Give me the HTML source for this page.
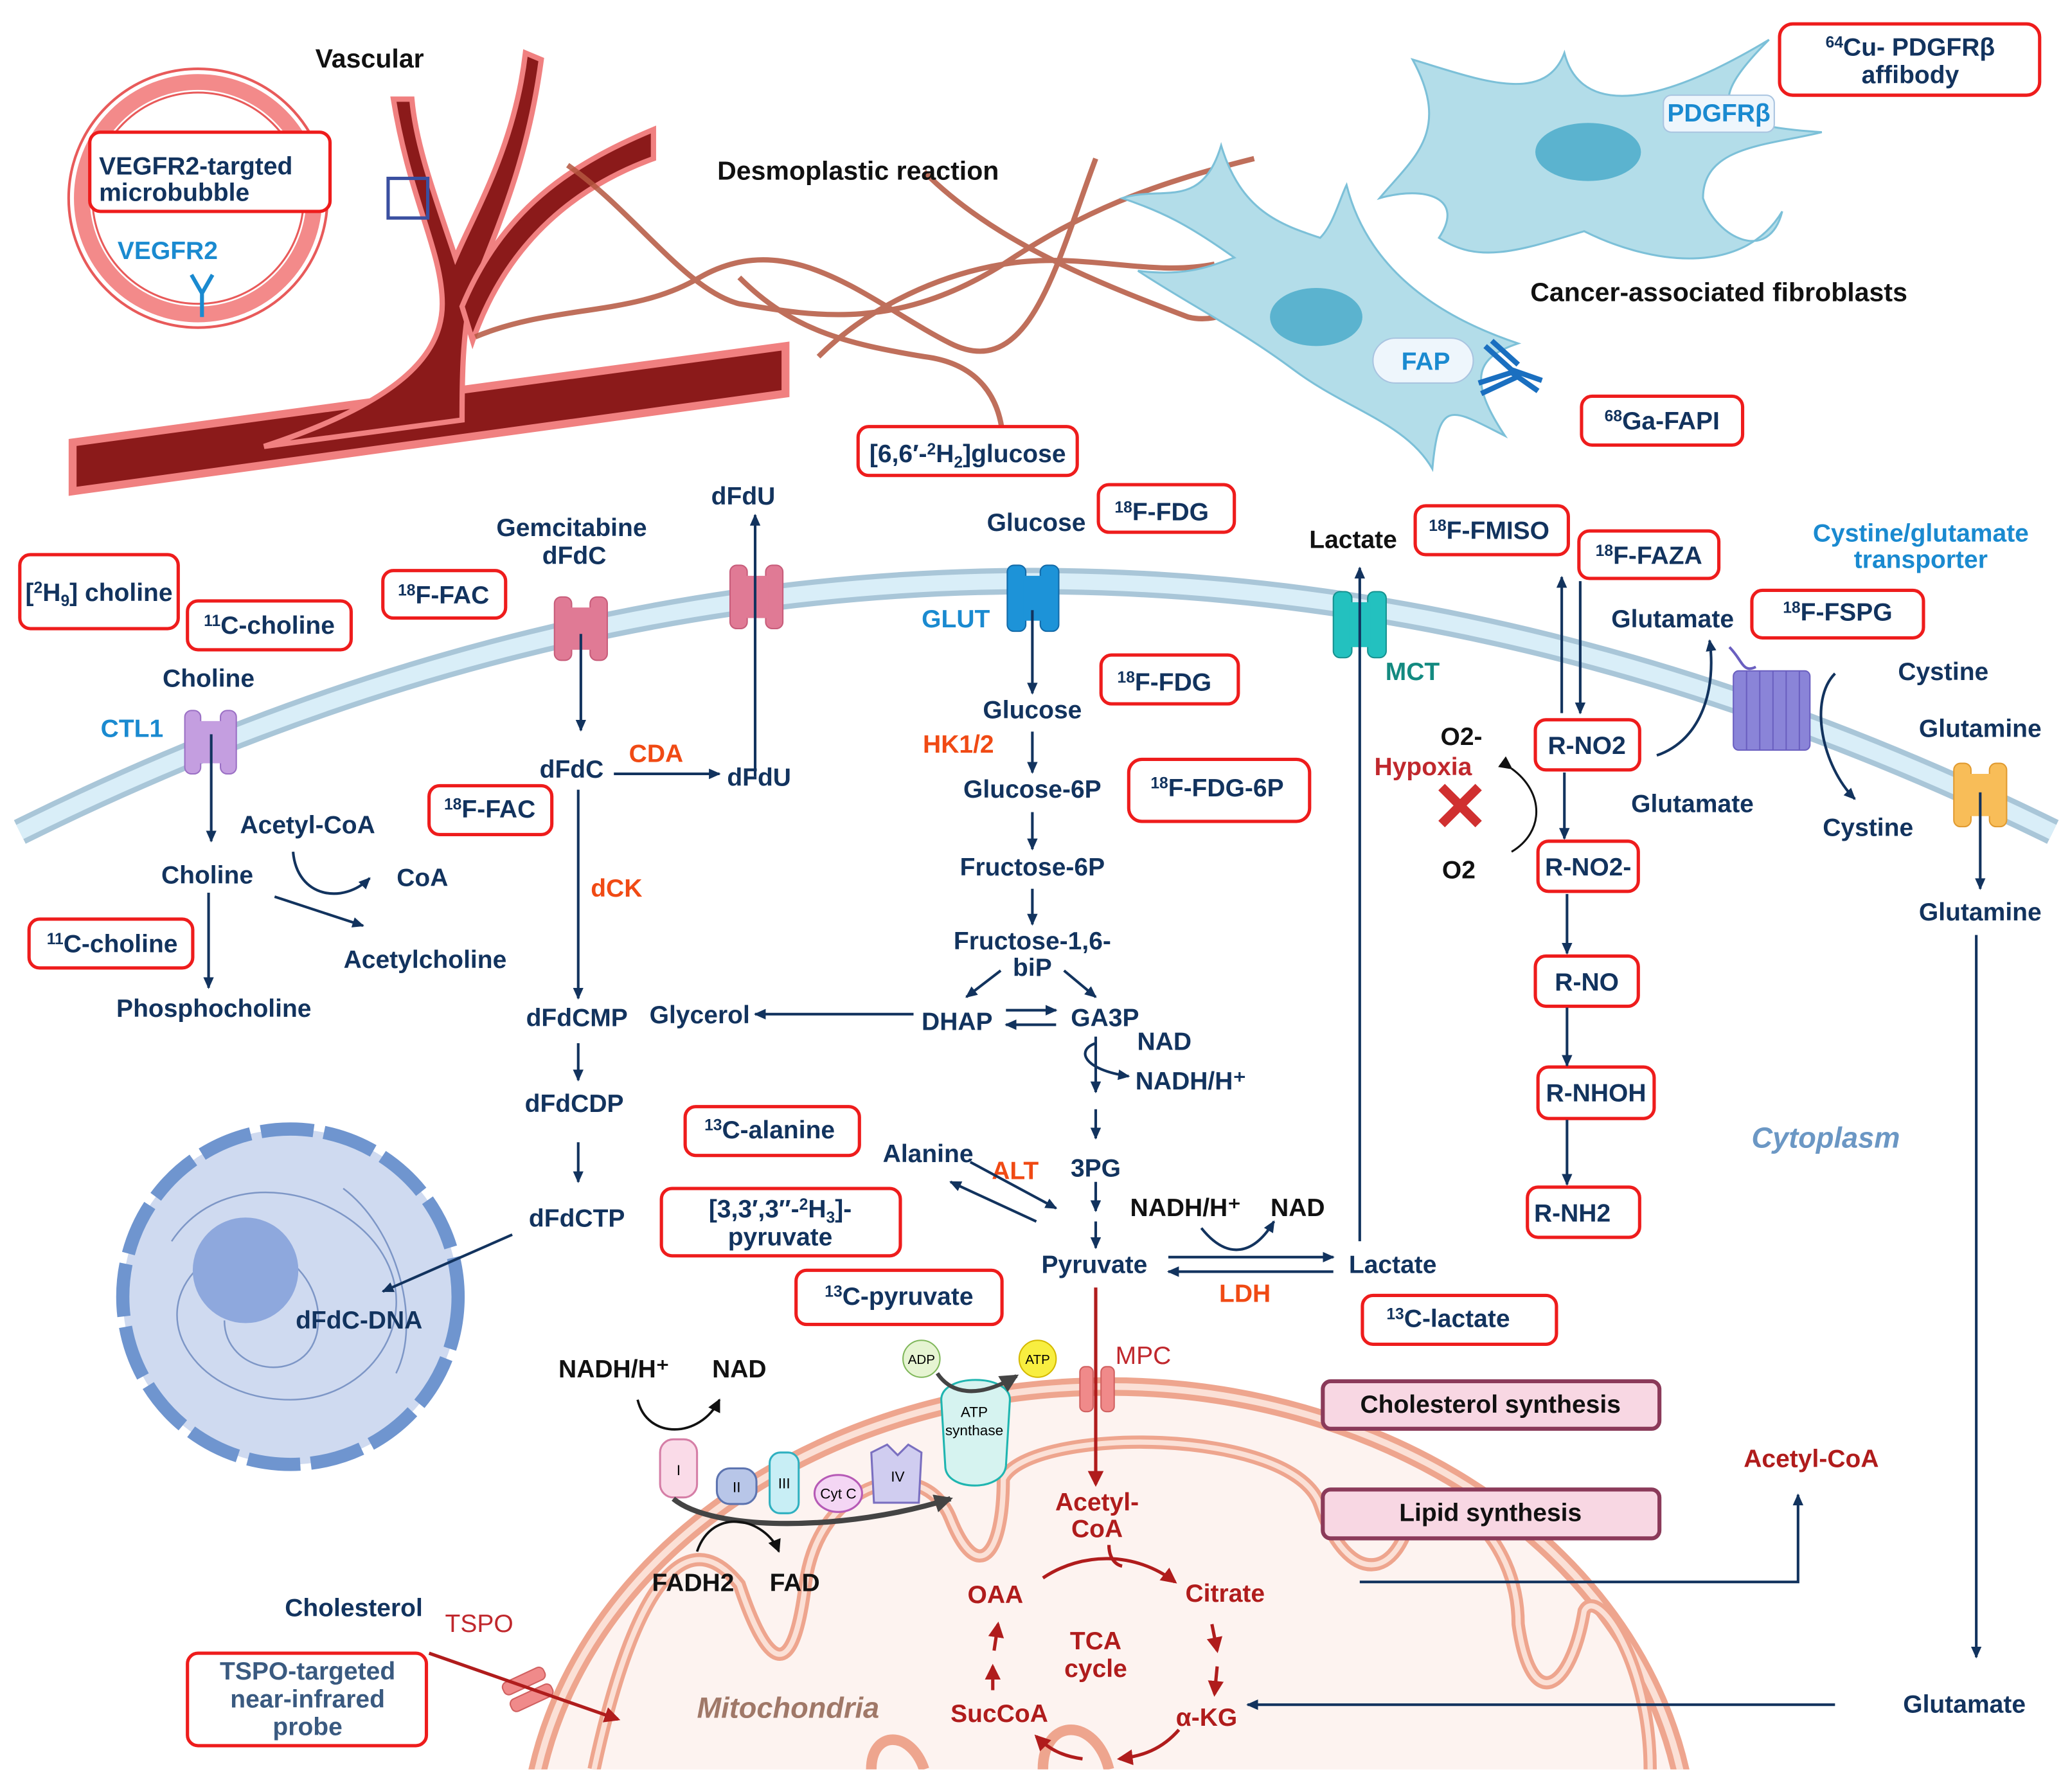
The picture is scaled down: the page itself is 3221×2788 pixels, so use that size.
<!DOCTYPE html>
<html><head><meta charset="utf-8"><style>
html,body{margin:0;padding:0;background:#fff;width:3221px;height:2788px;overflow:hidden}
svg{display:block}
text{font-family:"Liberation Sans",sans-serif;font-weight:bold}
.n{fill:#12335e;font-size:19px;text-anchor:middle}
.k{fill:#111;font-size:19px;text-anchor:middle}
.b{fill:#1a8ad0;font-size:19px;text-anchor:middle}
.o{fill:#f04a14;font-size:19px;text-anchor:middle}
.r{fill:#b01c1c;font-size:19px;text-anchor:middle}
.bx{fill:#fff;stroke:#ee1c1c;stroke-width:2.5}
.ln{stroke:#12335e;stroke-width:2;fill:none}
.lr{stroke:#b01c1c;stroke-width:2.5;fill:none}
</style></head><body>
<svg width="3221" height="2788" viewBox="0 0 1568 1357" xmlns="http://www.w3.org/2000/svg">
<defs>
<marker id="a" markerWidth="10" markerHeight="10" refX="8" refY="4" orient="auto" markerUnits="userSpaceOnUse"><path d="M0,0 L9,4 L0,8 Z" fill="#12335e"/></marker>
<marker id="ar" markerWidth="14" markerHeight="14" refX="10" refY="6" orient="auto" markerUnits="userSpaceOnUse"><path d="M0,0 L12,6 L0,12 Z" fill="#b01c1c"/></marker>
<marker id="ak" markerWidth="12" markerHeight="12" refX="9" refY="5" orient="auto" markerUnits="userSpaceOnUse"><path d="M0,0 L10,5 L0,10 Z" fill="#111"/></marker>
<marker id="ag" markerWidth="16" markerHeight="16" refX="12" refY="7" orient="auto" markerUnits="userSpaceOnUse"><path d="M0,0 L14,7 L0,14 Z" fill="#444"/></marker>
<clipPath id="cl"><rect x="0" y="0" width="1568" height="1340"/></clipPath>
</defs>
<rect width="1568" height="1357" fill="#fff"/>

<!-- blood vessels -->
<g>
<path d="M55,335 L595,262 L595,298 L55,372 Z" fill="#8b1a1a" stroke="#f08080" stroke-width="6"/>
<path d="M298,75 C310,150 335,190 335,230 C335,270 300,305 200,338 L350,318 C350,290 350,250 358,220 C378,170 400,120 410,45 L398,40 C390,110 360,160 345,195 C330,150 315,110 312,75 Z" fill="#8b1a1a" stroke="#f08080" stroke-width="4"/>
<path d="M350,232 C380,160 430,125 495,98 L495,120 C440,140 385,180 358,258 Z" fill="#8b1a1a" stroke="#f08080" stroke-width="4"/>
<rect x="294" y="135" width="30" height="30" fill="none" stroke="#3a4fa0" stroke-width="2.5"/>
</g>
<!-- vessel circle -->
<circle cx="150" cy="150" r="98" fill="none" stroke="#e85a5a" stroke-width="2"/>
<circle cx="150" cy="150" r="88" fill="none" stroke="#f38a8a" stroke-width="12"/>
<circle cx="150" cy="150" r="80" fill="#fff" stroke="#e85a5a" stroke-width="1.5"/>
<rect x="68" y="100" width="182" height="60" rx="8" class="bx"/>
<text x="75" y="132" class="n" style="text-anchor:start">VEGFR2-targted</text>
<text x="75" y="152" class="n" style="text-anchor:start">microbubble</text>
<text x="127" y="196" class="b">VEGFR2</text>
<path d="M153,240 L153,220 M153,222 L145,208 M153,222 L161,208" stroke="#1a8ad0" stroke-width="3" fill="none"/>
<text x="280" y="51" class="k" style="font-size:20px">Vascular</text>

<!-- collagen fibers -->
<g fill="none" stroke="#b5563f" stroke-width="4" opacity="0.85">
<path d="M430,125 C480,160 520,220 560,230 C620,240 680,250 760,200 C820,160 870,140 950,120"/>
<path d="M360,255 C420,230 480,240 530,210 C600,170 660,230 720,260 C780,290 800,200 830,120"/>
<path d="M560,210 C600,250 640,260 700,270 C740,275 760,300 760,340"/>
<path d="M700,130 C750,180 820,210 900,240 C940,250 980,200 1000,180"/>
<path d="M620,270 C650,240 700,210 760,200 C820,190 870,210 920,200"/>
</g>

<!-- fibroblasts -->
<path d="M1070,45 C1120,60 1170,80 1185,40 C1195,80 1240,90 1340,30 C1290,80 1300,95 1380,100 C1340,110 1290,110 1290,150 C1300,180 1340,200 1350,160 C1320,210 1250,200 1200,175 C1150,190 1120,200 1090,180 C1110,150 1080,140 1045,150 C1070,120 1100,100 1070,45 Z" fill="#b3dde9" stroke="#7cc0d8" stroke-width="1.5"/>
<ellipse cx="1203" cy="115" rx="40" ry="22" fill="#5bb3cf"/>
<path d="M925,110 C940,160 970,170 1000,180 C1010,170 1015,150 1020,140 C1030,180 1060,230 1150,260 C1120,270 1110,285 1140,330 C1100,310 1090,300 1085,355 C1065,320 1020,310 980,280 C940,250 900,230 862,205 C900,210 920,200 935,195 C900,170 880,160 850,150 C880,140 910,160 925,110 Z" fill="#b3dde9" stroke="#7cc0d8" stroke-width="1.5"/>
<ellipse cx="997" cy="240" rx="35" ry="22" fill="#5bb3cf"/>
<rect x="1260" y="72" width="84" height="28" rx="6" fill="#eef6fc" stroke="#a9c4e0"/>
<text x="1302" y="92" class="b">PDGFRβ</text>
<rect x="1040" y="256" width="76" height="34" rx="17" fill="#eef6fc" stroke="#a9c4e0"/>
<text x="1080" y="280" class="b">FAP</text>
<path d="M1125,262 L1145,280 L1168,288 M1120,290 L1145,282 L1165,296 M1130,258 L1150,276 M1122,298 L1150,285" stroke="#1a6fc0" stroke-width="4" fill="none"/>
<text x="650" y="136" class="k" style="font-size:20px">Desmoplastic reaction</text>
<text x="1302" y="228" class="k" style="font-size:20px">Cancer-associated fibroblasts</text>
<rect x="1348" y="18" width="197" height="54" rx="10" class="bx"/>
<text x="1447" y="42" class="n"><tspan font-size="12" dy="-6">64</tspan><tspan dy="6">Cu- PDGFRβ</tspan></text>
<text x="1447" y="63" class="n">affibody</text>
<rect x="1198" y="300" width="122" height="37" rx="8" class="bx"/>
<text x="1259" y="325" class="n"><tspan font-size="12" dy="-6">68</tspan><tspan dy="6">Ga-FAPI</tspan></text>

<!-- membrane -->
<path d="M15,630 Q780,250 1555,630" fill="none" stroke="#a9c6d8" stroke-width="20"/>
<path d="M15,630 Q780,250 1555,630" fill="none" stroke="#d9eef8" stroke-width="12"/>

<!-- mitochondria -->
<g clip-path="url(#cl)">
<ellipse cx="840" cy="1405" rx="440" ry="355" fill="#fdf3f0" stroke="#eea58e" stroke-width="14"/>
<ellipse cx="840" cy="1405" rx="440" ry="355" fill="none" stroke="#fbe0d6" stroke-width="5"/>
<path d="M450,1340 C480,1200 520,1150 560,1200 C580,1260 600,1280 610,1200 C620,1120 700,1100 720,1150 C740,1200 760,1180 760,1120 C780,1080 980,1080 1000,1140 C1020,1200 1060,1200 1070,1140 C1090,1120 1150,1160 1150,1230 C1160,1300 1190,1280 1200,1220 C1210,1200 1250,1260 1250,1340" fill="none" stroke="#eea58e" stroke-width="10"/>
<path d="M450,1340 C480,1200 520,1150 560,1200 C580,1260 600,1280 610,1200 C620,1120 700,1100 720,1150 C740,1200 760,1180 760,1120 C780,1080 980,1080 1000,1140 C1020,1200 1060,1200 1070,1140 C1090,1120 1150,1160 1150,1230 C1160,1300 1190,1280 1200,1220 C1210,1200 1250,1260 1250,1340" fill="none" stroke="#fbe0d6" stroke-width="4"/>
<path d="M790,1340 C790,1300 830,1300 840,1340 M660,1340 C660,1310 690,1310 700,1340" fill="none" stroke="#eea58e" stroke-width="8"/>
</g>

<!-- nucleus -->
<circle cx="220" cy="982" r="127" fill="#cfdaf0" stroke="#6f95cf" stroke-width="10" stroke-dasharray="40 8"/>
<path d="M130,940 C170,880 260,900 290,950 C320,1000 280,1060 220,1060 C150,1060 110,1000 150,960 C190,920 250,960 240,1010 C230,1050 170,1040 170,1000 M260,900 C300,930 320,1000 300,1040" fill="none" stroke="#7d96c6" stroke-width="1.2"/>
<circle cx="186" cy="962" r="40" fill="#8ea8dd"/>
<text x="272" y="1006" class="n">dFdC-DNA</text>

<!-- transporters -->
<g>
<rect x="140" y="538" width="12" height="48" rx="5" fill="#c49ee0" stroke="#9a6fc4"/><rect x="167" y="538" width="12" height="48" rx="5" fill="#c49ee0" stroke="#9a6fc4"/><rect x="150" y="546" width="19" height="32" fill="#c49ee0"/>
<rect x="420" y="452" width="13" height="48" rx="5" fill="#e07a95" stroke="#c75c7a"/><rect x="447" y="452" width="13" height="48" rx="5" fill="#e07a95" stroke="#c75c7a"/><rect x="431" y="460" width="18" height="32" fill="#e07a95"/>
<rect x="553" y="428" width="13" height="48" rx="5" fill="#e07a95" stroke="#c75c7a"/><rect x="580" y="428" width="13" height="48" rx="5" fill="#e07a95" stroke="#c75c7a"/><rect x="564" y="436" width="18" height="32" fill="#e07a95"/>
<rect x="763" y="428" width="14" height="50" rx="5" fill="#1d93d8" stroke="#136aa8"/><rect x="788" y="428" width="14" height="50" rx="5" fill="#1d93d8" stroke="#136aa8"/><rect x="775" y="436" width="15" height="34" fill="#1d93d8"/>
<rect x="1010" y="448" width="14" height="50" rx="5" fill="#23c1bf" stroke="#16918f"/><rect x="1036" y="448" width="14" height="50" rx="5" fill="#23c1bf" stroke="#16918f"/><rect x="1022" y="456" width="16" height="34" fill="#23c1bf"/>
<rect x="1480" y="578" width="13" height="48" rx="5" fill="#f8bd58" stroke="#e09a30"/><rect x="1507" y="578" width="13" height="48" rx="5" fill="#f8bd58" stroke="#e09a30"/><rect x="1491" y="586" width="18" height="32" fill="#f8bd58"/>
<rect x="1313" y="508" width="58" height="60" rx="4" fill="#8a84d8" stroke="#6a5fc0"/>
<path d="M1323,508 V568 M1333,508 V568 M1343,508 V568 M1353,508 V568 M1363,508 V568" stroke="#6a5fc0"/>
<path d="M1310,490 C1320,500 1320,510 1330,505" stroke="#6a5fc0" fill="none" stroke-width="2"/>
<rect x="818" y="1035" width="10" height="34" rx="4" fill="#f08a8a" stroke="#d06060"/><rect x="834" y="1035" width="10" height="34" rx="4" fill="#f08a8a" stroke="#d06060"/>
<g transform="rotate(-25 398 1278)"><rect x="382" y="1268" width="34" height="10" rx="4" fill="#f08a8a" stroke="#d06060"/><rect x="382" y="1282" width="34" height="10" rx="4" fill="#f08a8a" stroke="#d06060"/></g>
</g>

<!-- ETC -->
<rect x="500" y="1090" width="28" height="44" rx="10" fill="#fadbe8" stroke="#d57ea6" stroke-width="1.5"/><text x="514" y="1117" style="font-size:11px;font-weight:normal;text-anchor:middle">I</text>
<rect x="543" y="1112" width="30" height="27" rx="10" fill="#b8c6e8" stroke="#5d74b0" stroke-width="1.5"/><text x="558" y="1130" style="font-size:11px;font-weight:normal;text-anchor:middle">II</text>
<rect x="583" y="1100" width="22" height="46" rx="8" fill="#c8eef5" stroke="#2fb0c0" stroke-width="1.5"/><text x="594" y="1127" style="font-size:11px;font-weight:normal;text-anchor:middle">III</text>
<ellipse cx="635" cy="1131" rx="18" ry="14" fill="#f4d6f4" stroke="#b65ab6" stroke-width="1.5"/><text x="635" y="1135" style="font-size:11px;font-weight:normal;text-anchor:middle">Cyt C</text>
<path d="M660,1100 L672,1094 L680,1102 L688,1094 L698,1100 L696,1138 L662,1138 Z" fill="#d0cdf0" stroke="#7a6fc0" stroke-width="1.5"/><text x="680" y="1122" style="font-size:11px;font-weight:normal;text-anchor:middle">IV</text>
<path d="M713,1060 C713,1040 765,1040 765,1060 L762,1110 C760,1130 716,1130 716,1110 Z" fill="#d6f3f0" stroke="#1fb5b0" stroke-width="1.5"/>
<text x="738" y="1073" style="font-size:11px;font-weight:normal;text-anchor:middle">ATP</text><text x="738" y="1087" style="font-size:11px;font-weight:normal;text-anchor:middle">synthase</text>
<circle cx="698" cy="1029" r="14" fill="#e6f4d2" stroke="#7fb75a"/><text x="698" y="1033" style="font-size:10px;font-weight:normal;text-anchor:middle">ADP</text>
<circle cx="786" cy="1029" r="14" fill="#f8ee40" stroke="#d4b800"/><text x="786" y="1033" style="font-size:10px;font-weight:normal;text-anchor:middle">ATP</text>
<path d="M710,1040 C720,1055 740,1060 770,1042" fill="none" stroke="#444" stroke-width="3" marker-end="url(#ag)"/>
<path d="M510,1135 C540,1160 640,1160 720,1135" fill="none" stroke="#444" stroke-width="4" marker-end="url(#ag)"/>
<path d="M483,1060 C490,1090 530,1090 545,1060" fill="none" stroke="#111" stroke-width="1.8" marker-end="url(#ak)"/>
<path d="M528,1175 C540,1140 580,1150 590,1175" fill="none" stroke="#111" stroke-width="1.8" marker-end="url(#ak)"/>

<!-- boxes -->
<rect x="650" y="323" width="166" height="37" rx="8" class="bx"/>
<text x="733" y="350" class="n"><tspan>[6,6′-</tspan><tspan font-size="12" dy="-6">2</tspan><tspan dy="6">H</tspan><tspan font-size="12" dy="4">2</tspan><tspan dy="-4">]glucose</tspan></text>
<rect x="832" y="367" width="103" height="36" rx="8" class="bx"/>
<text x="880" y="394" class="n"><tspan font-size="12" dy="-6">18</tspan><tspan dy="6">F-FDG</tspan></text>
<rect x="1072" y="383" width="116" height="37" rx="8" class="bx"/>
<text x="1128" y="408" class="n"><tspan font-size="12" dy="-6">18</tspan><tspan dy="6">F-FMISO</tspan></text>
<rect x="1196" y="402" width="106" height="36" rx="8" class="bx"/>
<text x="1249" y="427" class="n"><tspan font-size="12" dy="-6">18</tspan><tspan dy="6">F-FAZA</tspan></text>
<rect x="15" y="420" width="120" height="56" rx="8" class="bx"/>
<text x="75" y="455" class="n"><tspan>[</tspan><tspan font-size="12" dy="-6">2</tspan><tspan dy="6">H</tspan><tspan font-size="12" dy="4">9</tspan><tspan dy="-4">] choline</tspan></text>
<rect x="142" y="455" width="124" height="37" rx="8" class="bx"/>
<text x="204" y="480" class="n"><tspan font-size="12" dy="-6">11</tspan><tspan dy="6">C-choline</tspan></text>
<rect x="290" y="432" width="93" height="36" rx="8" class="bx"/>
<text x="336" y="457" class="n"><tspan font-size="12" dy="-6">18</tspan><tspan dy="6">F-FAC</tspan></text>
<rect x="1327" y="447" width="130" height="36" rx="8" class="bx"/>
<text x="1392" y="470" class="n"><tspan font-size="12" dy="-6">18</tspan><tspan dy="6">F-FSPG</tspan></text>
<rect x="834" y="496" width="104" height="37" rx="8" class="bx"/>
<text x="882" y="523" class="n"><tspan font-size="12" dy="-6">18</tspan><tspan dy="6">F-FDG</tspan></text>
<rect x="855" y="575" width="137" height="47" rx="10" class="bx"/>
<text x="922" y="603" class="n"><tspan font-size="12" dy="-6">18</tspan><tspan dy="6">F-FDG-6P</tspan></text>
<rect x="325" y="595" width="93" height="37" rx="8" class="bx"/>
<text x="371" y="619" class="n"><tspan font-size="12" dy="-6">18</tspan><tspan dy="6">F-FAC</tspan></text>
<rect x="22" y="696" width="124" height="37" rx="8" class="bx"/>
<text x="85" y="721" class="n"><tspan font-size="12" dy="-6">11</tspan><tspan dy="6">C-choline</tspan></text>
<rect x="1163" y="545" width="79" height="38" rx="8" class="bx"/><text x="1202" y="571" class="n">R-NO2</text>
<rect x="1165" y="637" width="76" height="38" rx="8" class="bx"/><text x="1203" y="663" class="n">R-NO2-</text>
<rect x="1163" y="724" width="78" height="38" rx="8" class="bx"/><text x="1202" y="750" class="n">R-NO</text>
<rect x="1165" y="808" width="88" height="39" rx="8" class="bx"/><text x="1209" y="834" class="n">R-NHOH</text>
<rect x="1157" y="899" width="85" height="38" rx="8" class="bx"/><text x="1191" y="925" class="n">R-NH2</text>
<rect x="519" y="838" width="132" height="37" rx="8" class="bx"/>
<text x="583" y="862" class="n"><tspan font-size="12" dy="-6">13</tspan><tspan dy="6">C-alanine</tspan></text>
<rect x="501" y="900" width="181" height="51" rx="8" class="bx"/>
<text x="591" y="922" class="n"><tspan>[3,3′,3″-</tspan><tspan font-size="12" dy="-6">2</tspan><tspan dy="6">H</tspan><tspan font-size="12" dy="4">3</tspan><tspan dy="-4">]-</tspan></text>
<text x="591" y="943" class="n">pyruvate</text>
<rect x="603" y="962" width="156" height="41" rx="8" class="bx"/>
<text x="681" y="988" class="n"><tspan font-size="12" dy="-6">13</tspan><tspan dy="6">C-pyruvate</tspan></text>
<rect x="1032" y="981" width="147" height="37" rx="8" class="bx"/>
<text x="1097" y="1005" class="n"><tspan font-size="12" dy="-6">13</tspan><tspan dy="6">C-lactate</tspan></text>
<rect x="1002" y="1046" width="255" height="36" rx="6" fill="#f8d7e3" stroke="#8b3a5a" stroke-width="3"/>
<text x="1129" y="1070" class="k">Cholesterol synthesis</text>
<rect x="1002" y="1128" width="255" height="37" rx="6" fill="#f8d7e3" stroke="#8b3a5a" stroke-width="3"/>
<text x="1129" y="1152" class="k">Lipid synthesis</text>
<rect x="142" y="1252" width="181" height="70" rx="8" class="bx"/>
<text x="233" y="1272" class="n" style="fill:#3a5a80">TSPO-targeted</text>
<text x="233" y="1293" class="n" style="fill:#3a5a80">near-infrared</text>
<text x="233" y="1314" class="n" style="fill:#3a5a80">probe</text>

<!-- labels -->
<text x="563" y="382" class="n">dFdU</text>
<text x="433" y="406" class="n">Gemcitabine</text><text x="435" y="427" class="n">dFdC</text>
<text x="785" y="402" class="n">Glucose</text>
<text x="1025" y="415" class="k">Lactate</text>
<text x="1455" y="410" class="b">Cystine/glutamate</text><text x="1455" y="430" class="b">transporter</text>
<text x="724" y="475" class="b">GLUT</text>
<text x="1267" y="475" class="n">Glutamate</text>
<text x="1070" y="515" class="n" style="fill:#138a80">MCT</text>
<text x="1472" y="515" class="n">Cystine</text>
<text x="158" y="520" class="n">Choline</text>
<text x="782" y="544" class="n">Glucose</text>
<text x="100" y="558" class="b">CTL1</text>
<text x="1500" y="558" class="n">Glutamine</text>
<text x="726" y="570" class="o">HK1/2</text>
<text x="1107" y="564" class="k">O2-</text>
<text x="1078" y="587" class="r" style="fill:#c0282d">Hypoxia</text>
<path d="M1092,596 L1120,624 M1120,596 L1092,624" stroke="#d03030" stroke-width="7"/>
<path d="M1145,582 C1170,600 1170,630 1145,645" fill="none" stroke="#111" stroke-width="1.5" marker-start="url(#ak)"/>
<text x="433" y="589" class="n">dFdC</text>
<text x="497" y="577" class="o">CDA</text>
<text x="575" y="595" class="n">dFdU</text>
<text x="782" y="604" class="n">Glucose-6P</text>
<text x="1282" y="615" class="n">Glutamate</text>
<text x="1415" y="633" class="n">Cystine</text>
<text x="233" y="631" class="n">Acetyl-CoA</text>
<text x="157" y="669" class="n">Choline</text>
<text x="320" y="671" class="n">CoA</text>
<text x="1105" y="665" class="k">O2</text>
<text x="782" y="663" class="n">Fructose-6P</text>
<text x="467" y="679" class="o">dCK</text>
<text x="1500" y="697" class="n">Glutamine</text>
<text x="782" y="719" class="n">Fructose-1,6-</text>
<text x="782" y="739" class="n">biP</text>
<text x="322" y="733" class="n">Acetylcholine</text>
<text x="162" y="770" class="n">Phosphocholine</text>
<text x="437" y="777" class="n">dFdCMP</text>
<text x="530" y="775" class="n">Glycerol</text>
<text x="725" y="780" class="n">DHAP</text>
<text x="837" y="777" class="n">GA3P</text>
<text x="882" y="795" class="n">NAD</text>
<text x="902" y="825" class="n">NADH/H⁺</text>
<text x="435" y="842" class="n">dFdCDP</text>
<text x="1383" y="869" class="n" style="fill:#6b97c4;font-style:italic;font-size:22px">Cytoplasm</text>
<text x="703" y="880" class="n">Alanine</text>
<text x="769" y="893" class="o">ALT</text>
<text x="830" y="891" class="n">3PG</text>
<text x="898" y="921" class="k">NADH/H⁺</text>
<text x="983" y="921" class="k">NAD</text>
<text x="437" y="929" class="n">dFdCTP</text>
<text x="829" y="964" class="n">Pyruvate</text>
<text x="1055" y="964" class="n">Lactate</text>
<text x="943" y="986" class="o">LDH</text>
<text x="465" y="1043" class="k">NADH/H⁺</text>
<text x="560" y="1043" class="k">NAD</text>
<text x="866" y="1033" class="r" style="font-weight:normal;fill:#c0282d">MPC</text>
<text x="1372" y="1111" class="r">Acetyl-CoA</text>
<text x="831" y="1144" class="r">Acetyl-</text><text x="831" y="1164" class="r">CoA</text>
<text x="525" y="1205" class="k">FADH2</text>
<text x="602" y="1205" class="k">FAD</text>
<text x="754" y="1214" class="r">OAA</text>
<text x="928" y="1213" class="r">Citrate</text>
<text x="268" y="1224" class="n">Cholesterol</text>
<text x="363" y="1236" class="r" style="font-weight:normal;fill:#c0282d">TSPO</text>
<text x="830" y="1249" class="r">TCA</text><text x="830" y="1270" class="r">cycle</text>
<text x="597" y="1301" class="n" style="fill:#a07868;font-style:italic;font-size:22px">Mitochondria</text>
<text x="757" y="1304" class="r">SucCoA</text>
<text x="914" y="1307" class="r">α-KG</text>
<text x="1488" y="1297" class="n">Glutamate</text>

<!-- arrows -->
<g class="ln" marker-end="url(#a)">
<line x1="572" y1="588" x2="572" y2="390"/>
<line x1="440" y1="480" x2="440" y2="553"/>
<line x1="465" y1="586" x2="545" y2="586"/>
<line x1="438" y1="598" x2="438" y2="756"/>
<line x1="438" y1="790" x2="438" y2="818"/>
<line x1="438" y1="865" x2="438" y2="895"/>
<line x1="388" y1="935" x2="290" y2="978"/>
<line x1="782" y1="462" x2="782" y2="525"/>
<line x1="782" y1="554" x2="782" y2="585"/>
<line x1="782" y1="615" x2="782" y2="643"/>
<line x1="782" y1="673" x2="782" y2="700"/>
<line x1="758" y1="735" x2="732" y2="755"/>
<line x1="806" y1="735" x2="830" y2="755"/>
<line x1="692" y1="768" x2="572" y2="768"/>
<line x1="762" y1="765" x2="800" y2="765"/>
<line x1="800" y1="776" x2="762" y2="776"/>
<line x1="830" y1="785" x2="830" y2="827"/>
<line x1="830" y1="840" x2="830" y2="862"/>
<line x1="830" y1="895" x2="830" y2="917"/>
<line x1="830" y1="925" x2="830" y2="945"/>
<line x1="785" y1="925" x2="720" y2="895"/>
<line x1="735" y1="880" x2="800" y2="915"/>
<line x1="885" y1="952" x2="1010" y2="952"/>
<line x1="1010" y1="963" x2="885" y2="963"/>
<line x1="1030" y1="940" x2="1030" y2="430"/>
<line x1="1183" y1="540" x2="1183" y2="437"/>
<line x1="1197" y1="440" x2="1197" y2="540"/>
<line x1="1185" y1="585" x2="1185" y2="635"/>
<line x1="1187" y1="677" x2="1187" y2="722"/>
<line x1="1187" y1="763" x2="1187" y2="807"/>
<line x1="1187" y1="848" x2="1187" y2="897"/>
<line x1="1500" y1="600" x2="1500" y2="673"/>
<line x1="1497" y1="708" x2="1497" y2="1255"/>
<line x1="1390" y1="1291" x2="945" y2="1291"/>
<polyline points="1030,1198 1362,1198 1362,1132"/>
<line x1="160" y1="556" x2="160" y2="637"/>
<line x1="158" y1="676" x2="158" y2="748"/>
<line x1="208" y1="679" x2="275" y2="701"/>
<path d="M222,645 C225,680 260,685 280,665"/>
<path d="M830,790 C815,795 820,810 855,815"/>
<path d="M910,930 C930,955 950,950 965,925"/>
<path d="M1255,572 C1290,560 1300,520 1295,485"/>
<path d="M1390,510 C1370,530 1380,580 1405,605"/>
</g>
<g class="lr" marker-end="url(#ar)">
<line x1="830" y1="975" x2="830" y2="1124"/>
<path d="M790,1195 C820,1175 860,1175 890,1198"/>
<path d="M840,1170 C840,1180 845,1185 850,1186" marker-end="none"/>
<path d="M918,1230 L922,1250"/>
<path d="M922,1262 L920,1283"/>
<path d="M893,1310 C880,1325 865,1330 848,1332"/>
<path d="M820,1332 C805,1330 795,1325 785,1315"/>
<path d="M752,1280 L752,1262"/>
<path d="M753,1250 L756,1230"/>
<line x1="325" y1="1252" x2="468" y2="1302"/>
</g>
</svg>
</body></html>
